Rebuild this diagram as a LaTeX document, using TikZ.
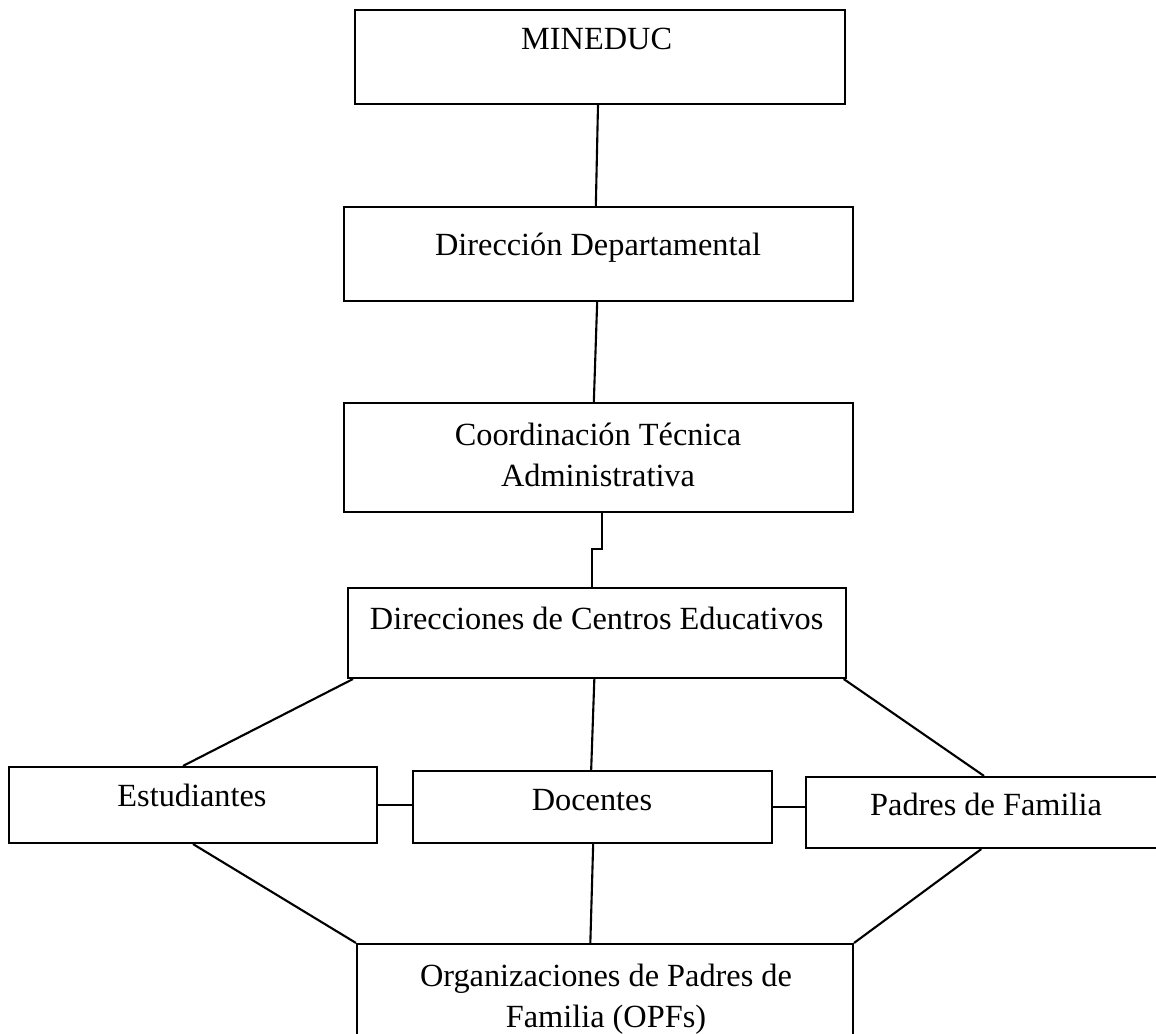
\documentclass[tikz,border=0pt]{standalone}
\usepackage{fontspec}
\setmainfont{Liberation Serif}
\usepackage{tikz}
\tikzset{>=latex}
\tikzstyle{box} = [draw=black, line width=0.9pt, inner sep=0, rectangle]
\tikzstyle{lbl} = [draw=none, inner sep=0, font=\fontsize{13.8}{17.5}\selectfont, align=center]
\tikzstyle{con} = [-, draw=black, line width=0.9pt]

\begin{document}
\begin{tikzpicture}
\useasboundingbox (0,0) rectangle (17.34,-15.51);
\node [box, minimum width=7.35cm, minimum height=1.41cm]  (M) at (9.0, -0.855) {};
\node [box, minimum width=7.635cm, minimum height=1.41cm] (D) at (8.9775, -3.81) {};
\node [box, minimum width=7.635cm, minimum height=1.635cm] (C) at (8.9775, -6.8625) {};
\node [box, minimum width=7.47cm, minimum height=1.35cm]  (DC) at (8.955, -9.495) {};
\node [box, minimum width=5.52cm, minimum height=1.14cm]  (E) at (2.895, -12.075) {};
\node [box, minimum width=5.385cm, minimum height=1.08cm] (Do) at (8.8875, -12.105) {};
\node [box, minimum width=5.5cm, minimum height=1.065cm]  (P) at (14.84, -12.1875) {};
\node [box, minimum width=7.44cm, minimum height=1.6cm]   (O) at (9.075, -14.96) {};
\node [lbl, anchor=base] (MT) at (8.95, -0.75) {MINEDUC};
\node [lbl, anchor=base] (DT) at (8.97, -3.84) {Dirección Departamental};
\node [lbl] (CT) at (8.97, -6.83) {Coordinación Técnica\\Administrativa};
\node [lbl, anchor=base] (DCT) at (8.95, -9.45) {Direcciones de Centros Educativos};
\node [lbl, anchor=base] (ET) at (2.88, -12.105) {Estudiantes};
\node [lbl, anchor=base] (DoT) at (8.88, -12.165) {Docentes};
\node [lbl, anchor=base] (PT) at (14.79, -12.24) {Padres de Familia};
\node [lbl] (OT) at (9.09, -14.985) {Organizaciones de Padres de\\Familia (OPFs)};
\draw [con] ([xshift=-0.03cm]M.south) to ([xshift=-0.04cm]D.north);
\draw [con] ([xshift=-0.02cm]D.south) to ([xshift=-0.07cm]C.north);
\draw [con] ([xshift=0.05cm]C.south) -- ++(0,-0.54) -| ([xshift=-0.075cm]DC.north);
\draw [con] ([xshift=0.09cm]DC.south west) to ([xshift=-0.15cm]E.north);
\draw [con] ([xshift=-0.04cm]DC.south) to ([xshift=-0.02cm]Do.north);
\draw [con] ([xshift=-0.05cm]DC.south east) to ([xshift=-0.08cm]P.north);
\draw [con] (E.east) -- (E.east -| Do.west);
\draw [con] (Do.east) -- (Do.east -| P.west);
\draw [con] (E.south) to (O.north west);
\draw [con] ([xshift=0.01cm]Do.south) to ([xshift=-0.22cm]O.north);
\draw [con] ([xshift=-0.12cm]P.south) to (O.north east);
\end{tikzpicture}
\end{document}
